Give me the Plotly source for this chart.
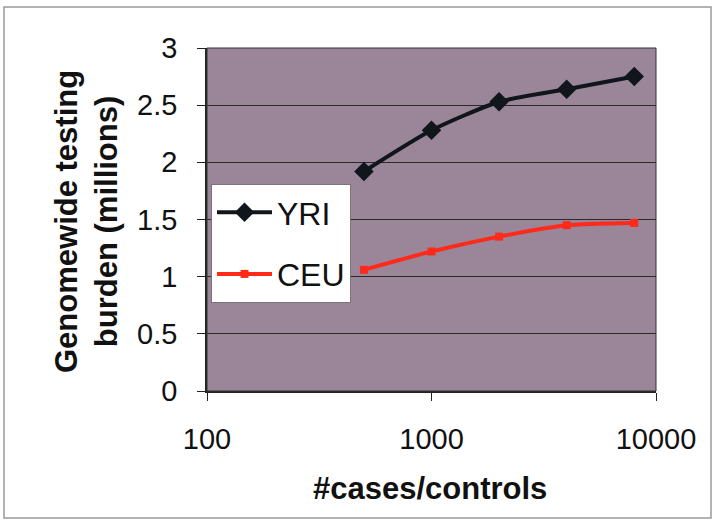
import plotly.graph_objects as go

# Sample sizes (cases = controls) and genome-wide testing burden, in millions
n_cases = [500, 1000, 2000, 4000, 8000]
yri_burden = [1.92, 2.28, 2.53, 2.64, 2.75]
ceu_burden = [1.06, 1.22, 1.35, 1.45, 1.47]

x_ticks = [100, 1000, 10000]
y_ticks = [0, 0.5, 1, 1.5, 2, 2.5, 3]

W, H = 714, 521
L, R, T, B = 207, 58, 48, 130
PW, PH = W - L - R, H - T - B


def px_x(px):
    return (px - L) / PW


def px_y(py):
    return (H - B - py) / PH


FONT = "Liberation Sans, Arial, sans-serif"

fig = go.Figure()
fig.add_trace(go.Scatter(
    x=n_cases, y=yri_burden, name="YRI", legendgroup="yri",
    mode="lines+markers",
    line=dict(color="#10161c", width=4, shape="spline", smoothing=0.6),
    marker=dict(symbol="diamond", size=15, color="#10161c"),
))
fig.add_trace(go.Scatter(
    x=n_cases, y=ceu_burden, name="CEU", legendgroup="ceu",
    mode="lines+markers",
    line=dict(color="#ff2a1a", width=4, shape="spline", smoothing=0.6),
    marker=dict(symbol="square", size=8, color="#ff2a1a"),
))

fig.update_xaxes(
    type="log", range=[2, 4],
    tickvals=x_ticks, ticktext=[str(v) for v in x_ticks],
    ticks="outside", ticklen=8, tickcolor="#222", tickwidth=1,
    showgrid=False, showline=True, linecolor="#222", linewidth=1.5,
    tickfont=dict(family=FONT, size=29, color="#111"),
    ticklabelstandoff=13, zeroline=False,
)
fig.update_yaxes(
    range=[0, 3], tickvals=y_ticks,
    ticktext=["0", "0.5", "1", "1.5", "2", "2.5", "3"],
    ticks="outside", ticklen=8, tickcolor="#222", tickwidth=1,
    showgrid=True, gridcolor="#2a2a2a", gridwidth=1,
    showline=True, linecolor="#222", linewidth=1.5,
    tickfont=dict(family=FONT, size=29, color="#111"),
    ticklabelstandoff=14, zeroline=False,
)

fig.update_layout(
    width=W, height=H,
    margin=dict(l=L, r=R, t=T, b=B),
    paper_bgcolor="white",
    plot_bgcolor="#9a8599",
    showlegend=True,
    legend=dict(
        x=px_x(211), y=px_y(184), xanchor="left", yanchor="top",
        bgcolor="white", bordercolor="#777", borderwidth=1,
        font=dict(family=FONT, size=32, color="#111"),
        tracegroupgap=17, itemwidth=55,
    ),
    annotations=[
        dict(
            text="<b>Genomewide testing<br>burden (millions)</b>",
            xref="paper", yref="paper", x=px_x(86), y=px_y(222),
            xanchor="center", yanchor="middle", textangle=-90,
            showarrow=False, align="center",
            font=dict(family=FONT, size=31, color="#111"),
        ),
        dict(
            text="<b>#cases/controls</b>",
            xref="paper", yref="paper", x=px_x(430), y=px_y(488),
            xanchor="center", yanchor="middle",
            showarrow=False,
            font=dict(family=FONT, size=31, color="#111"),
        ),
    ],
    shapes=[
        # plot-area border
        dict(type="rect", xref="paper", yref="paper", x0=0, y0=0, x1=1, y1=1,
             line=dict(color="#333", width=1)),
        # outer chart frame
        dict(type="rect", xref="paper", yref="paper",
             x0=px_x(4), y0=px_y(518), x1=px_x(711), y1=px_y(7),
             line=dict(color="#999", width=1.5), layer="below"),
    ],
)

fig.write_html("out.html")
